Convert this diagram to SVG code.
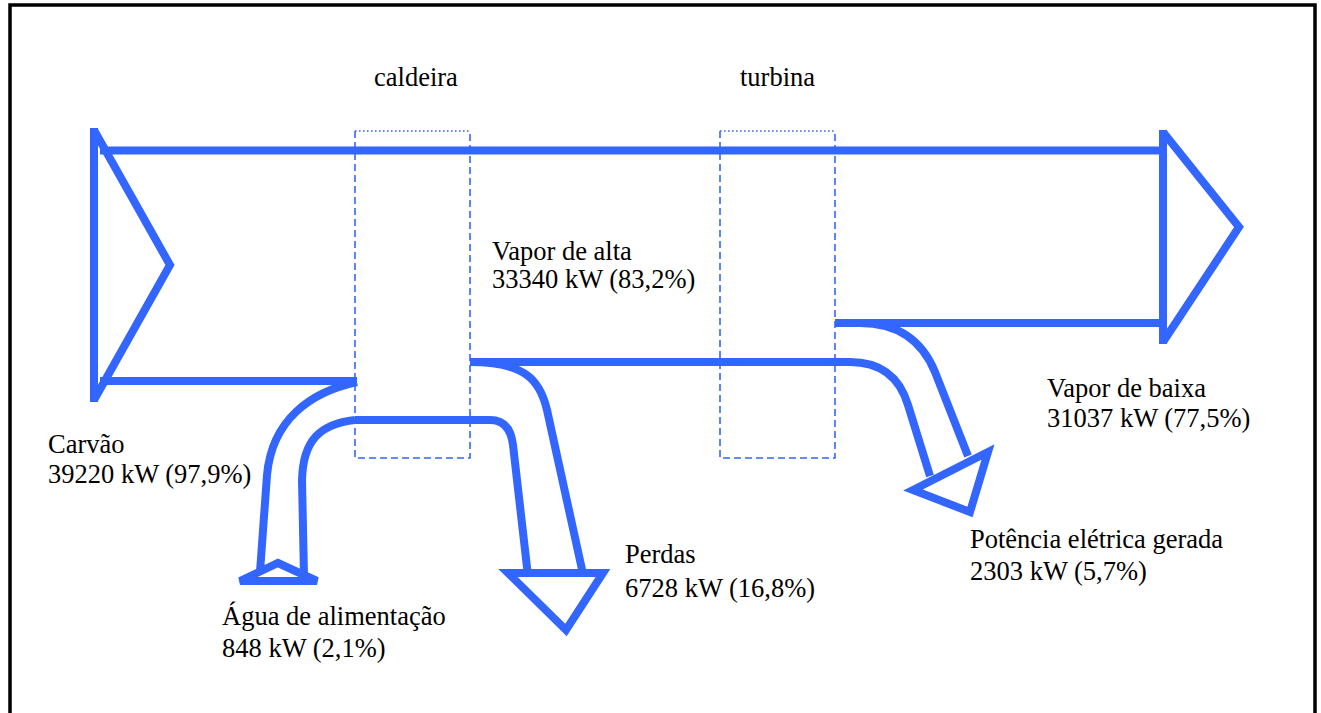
<svg xmlns="http://www.w3.org/2000/svg" width="1321" height="713" viewBox="0 0 1321 713">
  <style>
    .flow { fill: none; stroke: #3366ff; stroke-width: 8; stroke-linejoin: miter; stroke-linecap: butt; }
    .head { fill: none; stroke: #3366ff; stroke-width: 8; stroke-linejoin: miter; }
    .box { fill: none; stroke: #3366ff; stroke-width: 1.6; stroke-dasharray: 7 4; }
    .boxtop { fill: none; stroke: #3366ff; stroke-width: 1.6; stroke-dasharray: 1.6 2.4; }
    text { font-family: 'Liberation Serif', 'Times New Roman', serif; font-size: 26.5px; fill: #000; }
  </style>
  <rect x="0" y="0" width="1321" height="713" fill="#ffffff"/>
  <rect x="10" y="5" width="1305" height="760" fill="none" stroke="#000" stroke-width="3.5"/>

  <g id="caldeira">
    <path class="box" d="M355,131 V458 H470 V131"/>
    <path class="boxtop" d="M355,131 H470"/>
    <text x="374" y="86">caldeira</text>
  </g>

  <g id="turbina">
    <path class="box" d="M720,131 V458 H835 V131"/>
    <path class="boxtop" d="M720,131 H835"/>
    <text x="740" y="86">turbina</text>
  </g>

  <g id="connectors">
    <path class="flow" d="M94,128 V402"/>
    <path class="flow" d="M94,130 L170,265 L94,400"/>
    <path class="flow" d="M100,150.5 H1163"/>
    <path class="flow" d="M100,381 H357"/>
    <path class="flow" d="M1163,130 V344"/>
    <path class="head" d="M1163,132 L1239,227 L1163,342"/>
    <path class="flow" d="M835,323 H1163"/>
    <path class="flow" d="M470,362 H850 Q895,362 908,405 L930,476"/>
    <path class="flow" d="M860,323 Q915,323 935,372 L968,456"/>
    <path class="head" d="M913,490 L988,452 L970,512 Z"/>
    <path class="flow" d="M470,362 C525,362 540,380 547,410 L583,574"/>
    <path class="flow" d="M355,420 H490 Q510,420 513,445 L528,576"/>
    <path class="head" d="M508,573 L603,573 L566,630 Z"/>
    <path class="flow" d="M357,382 C310,392 272,420 267,475 L260,572"/>
    <path class="flow" d="M355,420 C320,424 303,440 302,480 L304,576"/>
    <path class="head" d="M240,581 L278,563 L317,581 Z"/>
  </g>

  <g id="labels">
    <text x="48" y="453">Carvão</text>
    <text x="48" y="483">39220 kW (97,9%)</text>
    <text x="492" y="260">Vapor de alta</text>
    <text x="492" y="288">33340 kW (83,2%)</text>
    <text x="1047" y="397">Vapor de baixa</text>
    <text x="1047" y="427">31037 kW (77,5%)</text>
    <text x="970" y="548">Potência elétrica gerada</text>
    <text x="970" y="580">2303 kW (5,7%)</text>
    <text x="625" y="563">Perdas</text>
    <text x="625" y="597">6728 kW (16,8%)</text>
    <text x="222" y="625">Água de alimentação</text>
    <text x="222" y="657">848 kW (2,1%)</text>
  </g>
</svg>
